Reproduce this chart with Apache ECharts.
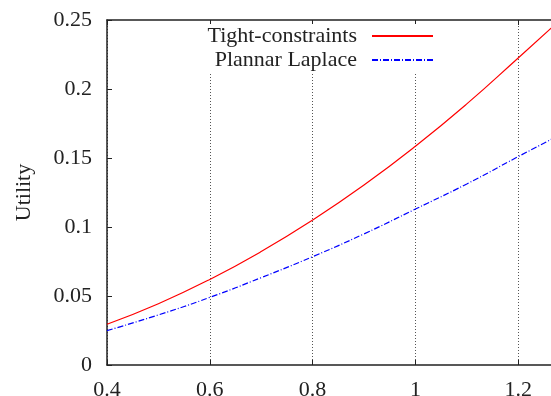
<!DOCTYPE html>
<html>
<head>
<meta charset="utf-8">
<script src="https://cdn.jsdelivr.net/npm/echarts@6/dist/echarts.min.js"></script>
<style>html,body{margin:0;padding:0;background:#fff;overflow:hidden;}#c{width:551px;height:396px;}</style>
</head>
<body>
<div id="c"></div>
<script>
var xValues = [0.4, 0.5, 0.6, 0.7, 0.8, 0.9, 1.0, 1.1, 1.2, 1.28];
var tightConstraints = [0.0295, 0.0444, 0.0620, 0.0822, 0.1050, 0.1304, 0.1585, 0.1892, 0.2225, 0.2495];
var plannarLaplace = [0.0249, 0.0363, 0.0490, 0.0633, 0.0785, 0.0950, 0.1130, 0.1312, 0.1510, 0.1665];
var seriesNames = ['Tight-constraints', 'Plannar Laplace'];
var yLabel = 'Utility';

var FONT = 'Liberation Serif';
var TXT = '#222';
function pairs(ys) { return xValues.map(function (x, i) { return [x, ys[i]]; }); }

var chart = echarts.init(document.getElementById('c'), null, {renderer: 'canvas'});
chart.setOption({
  animation: false,
  backgroundColor: '#fff',
  grid: {left: 107, top: 20, bottom: 31, width: 514, containLabel: false, outerBoundsMode: 'none'},
  legend: {
    orient: 'vertical', right: 113, top: 24, align: 'right',
    itemWidth: 61, itemHeight: 10, itemGap: 0,
    padding: [0, 4, 0, 4], backgroundColor: '#fff',
    itemStyle: {opacity: 0},
    data: seriesNames,
    textStyle: {fontFamily: FONT, fontSize: 22, color: TXT, lineHeight: 14, padding: [0, 10, 10, 0]}
  },
  xAxis: [{
    type: 'value', min: 0.4, max: 1.4, interval: 0.2, position: 'bottom',
    axisLine: {show: true, lineStyle: {color: '#222', width: 1.5}},
    axisTick: {show: true, inside: true, length: 5, lineStyle: {color: '#222'}},
    axisLabel: {fontFamily: FONT, fontSize: 22, color: TXT, margin: 14},
    splitLine: {show: true, lineStyle: {color: '#555', width: 1, type: [1, 2]}}
  }, {
    type: 'value', min: 0.4, max: 1.4, interval: 0.2, position: 'top',
    axisLine: {show: true, lineStyle: {color: '#222', width: 1.5}},
    axisTick: {show: true, inside: true, length: 5, lineStyle: {color: '#222'}},
    axisLabel: {show: false},
    splitLine: {show: false}
  }],
  yAxis: {
    type: 'value', min: 0, max: 0.25, interval: 0.05,
    name: yLabel, nameLocation: 'middle', nameRotate: 90, nameGap: 72,
    nameTextStyle: {fontFamily: FONT, fontSize: 22, color: TXT},
    axisLine: {show: true, lineStyle: {color: '#222', width: 1.5}},
    axisTick: {show: true, inside: true, length: 5, lineStyle: {color: '#222'}},
    axisLabel: {fontFamily: FONT, fontSize: 22, color: TXT, margin: 15},
    splitLine: {show: false}
  },
  series: [{
    name: seriesNames[0], type: 'line', data: pairs(tightConstraints),
    smooth: true, symbol: 'none', showSymbol: false,
    lineStyle: {color: '#ff0000', width: 1.2}, itemStyle: {color: '#ff0000'}
  }, {
    name: seriesNames[1], type: 'line', data: pairs(plannarLaplace),
    smooth: true, symbol: 'none', showSymbol: false,
    lineStyle: {color: '#0000ff', width: 1.2, type: [6, 2, 1, 2]}, itemStyle: {color: '#0000ff'}
  }]
});
</script>
</body>
</html>
